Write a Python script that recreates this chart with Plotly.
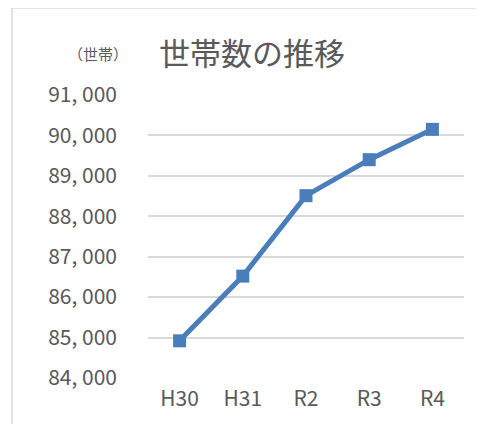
import plotly.graph_objects as go

categories = ["H30", "H31", "R2", "R3", "R4"]
households = [84920, 86520, 88510, 89400, 90150]
tick_values = [84000, 85000, 86000, 87000, 88000, 89000, 90000, 91000]
tick_labels = ["84, 000", "85, 000", "86, 000", "87, 000", "88, 000", "89, 000", "90, 000", "91, 000"]
title_text = "世帯数の推移"
unit_text = "（世帯）"

FONT = "Noto Sans CJK JP"
GRAY = "#595959"

fig = go.Figure()
fig.add_trace(go.Scatter(
    x=categories, y=households, mode="lines+markers",
    line=dict(color="#4a7ebb", width=5),
    marker=dict(symbol="square", size=13, color="#4a7ebb"),
    showlegend=False, hoverinfo="x+y",
))

# page is offset by the 8px body margin
OFF = 8
W, H = 484 - OFF, 424 - OFF
L, R, T, B = 140, 20, 87, 46
pw, ph = W - L - R, H - T - B

def px(x):
    return (x - OFF - L) / pw

def py(y):
    return (H - B - (y - OFF)) / ph

fig.update_layout(
    width=W, height=H,
    margin=dict(l=L, r=R, t=T, b=B),
    paper_bgcolor="white", plot_bgcolor="white",
    font=dict(family=FONT, color=GRAY),
    xaxis=dict(
        type="category", showgrid=False, zeroline=False, showline=False,
        ticks="", tickfont=dict(size=21, color=GRAY), ticklabelstandoff=6,
        range=[-0.5, len(categories) - 0.5], fixedrange=True,
    ),
    yaxis=dict(
        range=[tick_values[0], tick_values[-1]],
        tickvals=tick_values, ticktext=tick_labels,
        showgrid=True, gridcolor="#d9d9d9", gridwidth=1.5,
        zeroline=False, showline=False, ticks="",
        tickfont=dict(size=21, color=GRAY), ticklabelstandoff=30,
        fixedrange=True,
    ),
    shapes=[
        dict(type="line", xref="paper", yref="paper",
             x0=px(12), x1=px(490), y0=py(8), y1=py(8),
             line=dict(color="#d9d9d9", width=1.5)),
        dict(type="line", xref="paper", yref="paper",
             x0=px(12), x1=px(12), y0=py(8), y1=py(430),
             line=dict(color="#d9d9d9", width=1.5)),
    ],
    annotations=[
        dict(text=title_text, xref="paper", yref="paper",
             x=px(157), y=py(51), xanchor="left", yanchor="middle",
             showarrow=False, font=dict(size=31, color=GRAY, family=FONT)),
        dict(text=unit_text, xref="paper", yref="paper",
             x=px(66), y=py(53), xanchor="left", yanchor="middle",
             showarrow=False, font=dict(size=15, color=GRAY, family=FONT)),
    ],
)

fig.write_html("out.html")
